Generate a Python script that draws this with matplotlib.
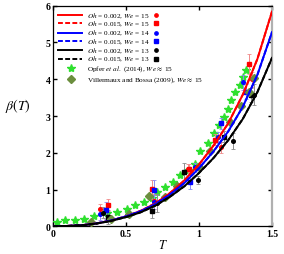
import matplotlib
matplotlib.use("Agg")
import matplotlib.pyplot as plt
import numpy as np

plt.rcParams['font.family'] = ['Liberation Serif', 'DejaVu Serif']
plt.rcParams['mathtext.fontset'] = 'stix'

# ---- model curves ----
T_curve = [0, 0.1, 0.2, 0.3, 0.4, 0.5, 0.6, 0.7, 0.8, 0.9, 1.0, 1.1, 1.2, 1.3, 1.4, 1.5]
beta_we15 = [0, 0.01, 0.03, 0.08, 0.16, 0.27, 0.42, 0.62, 0.90, 1.25, 1.68, 2.20, 2.80, 3.58, 4.55, 5.84]
beta_we14 = [0, 0.01, 0.03, 0.08, 0.16, 0.27, 0.41, 0.60, 0.86, 1.18, 1.58, 2.04, 2.58, 3.25, 4.12, 5.28]
beta_we13 = [0, 0.01, 0.03, 0.075, 0.15, 0.25, 0.38, 0.56, 0.80, 1.09, 1.45, 1.86, 2.34, 2.92, 3.65, 4.58]

# ---- simulation points with error bars ----
T_r_c = [0.32, 0.69, 0.925, 1.15, 1.36]
b_r_c = [0.46, 0.68, 1.55, 2.15, 4.00]
e_r_c = [0.15, 0.20, 0.15, 0.15, 0.20]
T_r_s = [0.38, 0.676, 0.93, 1.11, 1.34]
b_r_s = [0.57, 1.01, 1.55, 2.35, 4.41]
e_r_s = [0.16, 0.26, 0.15, 0.15, 0.28]
T_b_c = [0.32, 0.69, 0.97, 1.128, 1.30]
b_b_c = [0.33, 0.66, 1.60, 2.42, 3.92]
e_b_c = [0.15, 0.20, 0.12, 0.15, 0.20]
T_b_s = [0.36, 0.69, 0.94, 1.15, 1.325]
b_b_s = [0.44, 1.00, 1.21, 2.80, 3.66]
e_b_s = [0.23, 0.27, 0.20, 0.15, 0.20]
T_k_c = [0.345, 0.71, 0.99, 1.235, 1.38]
b_k_c = [0.37, 0.64, 1.25, 2.31, 3.58]
e_k_c = [0.15, 0.24, 0.11, 0.22, 0.28]
T_k_s = [0.38, 0.676, 0.90, 1.17, 1.356]
b_k_s = [0.24, 0.42, 1.49, 2.44, 3.57]
e_k_s = [0.19, 0.20, 0.24, 0.15, 0.20]

# ---- experiments ----
T_opfer = [0.03, 0.082, 0.15, 0.21, 0.28, 0.37, 0.44, 0.51, 0.56, 0.62, 0.68, 0.71, 0.77,
           0.82, 0.87, 0.93, 0.97, 1.01, 1.06, 1.10, 1.14, 1.17, 1.20, 1.22, 1.25, 1.28, 1.30, 1.32]
b_opfer = [0.13, 0.16, 0.18, 0.21, 0.27, 0.35, 0.40, 0.47, 0.57, 0.67, 0.77, 0.92, 1.08,
           1.21, 1.40, 1.53, 1.69, 2.05, 2.26, 2.53, 2.75, 2.97, 3.19, 3.44, 3.66, 3.85, 4.05, 4.26]
T_vill = [0.26, 0.40, 0.52, 0.66, 0.77, 0.85, 1.00, 1.075, 1.21, 1.29, 1.34, 1.38]
b_vill = [0.11, 0.19, 0.33, 0.83, 0.81, 1.10, 1.60, 2.05, 2.83, 3.26, 3.64, 4.04]

labels = [r"$Oh$ = 0.002, $We$ = 15", r"$Oh$ = 0.015, $We$ = 15",
          r"$Oh$ = 0.002, $We$ = 14", r"$Oh$ = 0.015, $We$ = 14",
          r"$Oh$ = 0.002, $We$ = 13", r"$Oh$ = 0.015, $We$ = 13"]
lbl_opfer = r"Opfer $et\ al.$ (2014), $We\approx$ 15"
lbl_vill = r"Villermaux and Bossa (2009), $We\approx$ 15"

RED, BLUE, BLACK = '#ff0000', '#0000ff', '#000000'
GREEN, OLIVE = '#2ee02e', '#6b8e3e'

fig = plt.figure(figsize=(2.84, 2.55), dpi=100)
ax = fig.add_axes([0.1866, 0.1086, 0.7711, 0.8651])

sets = [(T_r_c, b_r_c, e_r_c, RED, '#f08a8a', 'o'), (T_r_s, b_r_s, e_r_s, RED, '#f08a8a', 's'),
        (T_b_c, b_b_c, e_b_c, BLUE, '#8a8af5', 'o'), (T_b_s, b_b_s, e_b_s, BLUE, '#8a8af5', 's'),
        (T_k_c, b_k_c, e_k_c, BLACK, '#8c8c8c', 'o'), (T_k_s, b_k_s, e_k_s, BLACK, '#8c8c8c', 's')]

ax.plot(T_opfer, b_opfer, linestyle='none', marker='*', ms=6.0, color=GREEN, mec=GREEN, zorder=3)

for T, b, e, c, ec, m in sets:
    ax.errorbar(T, b, yerr=e, fmt=m, ms=2.6, color=c, ecolor=ec, elinewidth=0.7,
                capsize=1.5, capthick=0.6, zorder=4)

ax.plot(T_vill, b_vill, linestyle='none', marker='D', ms=3.6, color=OLIVE, zorder=5)

for beta, c in [(beta_we15, RED), (beta_we14, BLUE), (beta_we13, BLACK)]:
    ax.plot(T_curve, beta, color=c, lw=1.4, zorder=6)
    ax.plot(T_curve, beta, color=c, lw=1.4, ls=(0, (2.5, 1.2)), zorder=6)

ax.set_xlim(0, 1.5)
ax.set_ylim(0, 6)
ax.set_xticks([0, 0.5, 1, 1.5])
ax.set_xticklabels(['0', '0.5', '1', '1.5'])
ax.set_yticks([0, 1, 2, 3, 4, 5, 6])
ax.tick_params(direction='in', top=True, right=True, length=3, width=1, labelsize=7, pad=2)
for lab in ax.get_xticklabels() + ax.get_yticklabels():
    lab.set_fontweight('bold')
for s in ['left', 'bottom', 'top']:
    ax.spines[s].set_linewidth(0.9)
ax.spines['right'].set_color('#b0b0b0')
ax.spines['right'].set_linewidth(1.6)

ax.set_xlabel(r'$T$', fontsize=9, labelpad=0)
ax.set_ylabel(r'$\beta(T)$', fontsize=10, rotation=0, va='center', ha='center')
ax.yaxis.set_label_coords(-0.16, 0.55)

rows = [0.958, 0.920, 0.877, 0.839, 0.799, 0.760]
styles = [(RED, '-', 'o'), (RED, '--', 's'), (BLUE, '-', 'o'), (BLUE, '--', 's'),
          (BLACK, '-', 'o'), (BLACK, '--', 's')]
for y, lab, (c, ls, m) in zip(rows, labels, styles):
    ax.plot([0.023, 0.132], [y, y], color=c, lw=1.4,
            ls='-' if ls == '-' else (0, (2.5, 1.2)), transform=ax.transAxes, clip_on=False)
    ax.text(0.155, y, lab, fontsize=5.2, va='center', ha='left', transform=ax.transAxes)
    ax.plot([0.47], [y], marker=m, ms=2.4, color=c, transform=ax.transAxes, clip_on=False)
ax.plot([0.081], [0.717], marker='*', ms=6.0, color=GREEN, transform=ax.transAxes, clip_on=False)
ax.text(0.155, 0.717, lbl_opfer, fontsize=5.2, va='center', ha='left', transform=ax.transAxes)
ax.plot([0.081], [0.667], marker='D', ms=3.6, color=OLIVE, transform=ax.transAxes, clip_on=False)
ax.text(0.155, 0.667, lbl_vill, fontsize=5.2, va='center', ha='left', transform=ax.transAxes)

fig.savefig('out.png', dpi=100)
